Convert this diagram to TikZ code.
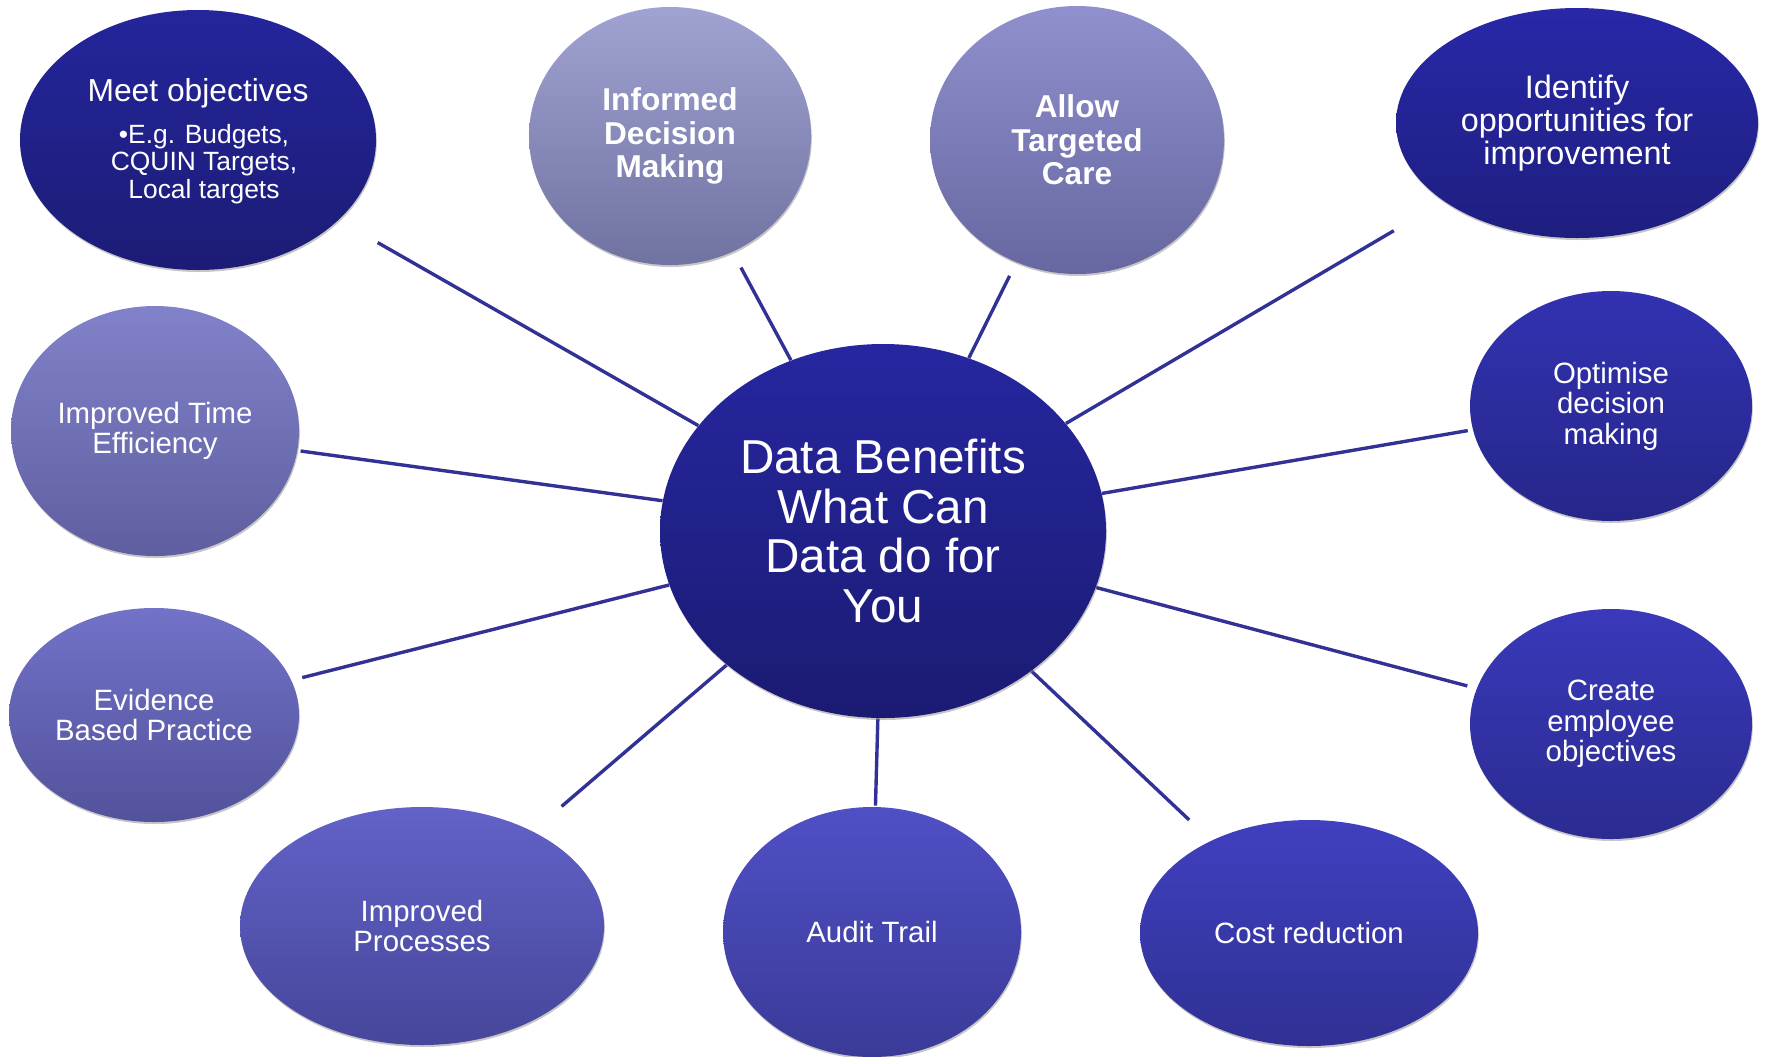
\documentclass[tikz,border=0pt]{standalone}
\usepackage{fontspec}
\setmainfont{Liberation Sans}
\usetikzlibrary{shapes.geometric,backgrounds,shadows}
\definecolor{linkc}{RGB}{50,50,150}
\definecolor{cenT}{RGB}{38,38,160}\definecolor{cenB}{RGB}{27,27,115}
\definecolor{meeT}{RGB}{36,37,155}\definecolor{meeB}{RGB}{28,28,118}
\definecolor{infT}{RGB}{160,162,210}\definecolor{infB}{RGB}{112,114,162}
\definecolor{allT}{RGB}{144,144,206}\definecolor{allB}{RGB}{102,102,160}
\definecolor{ideT}{RGB}{40,40,168}\definecolor{ideB}{RGB}{30,30,128}
\definecolor{timT}{RGB}{130,130,202}\definecolor{timB}{RGB}{94,94,160}
\definecolor{optT}{RGB}{50,50,178}\definecolor{optB}{RGB}{38,38,138}
\definecolor{eviT}{RGB}{114,114,200}\definecolor{eviB}{RGB}{82,82,156}
\definecolor{creT}{RGB}{57,57,186}\definecolor{creB}{RGB}{43,43,145}
\definecolor{proT}{RGB}{98,98,200}\definecolor{proB}{RGB}{70,70,155}
\definecolor{audT}{RGB}{80,80,198}\definecolor{audB}{RGB}{58,58,152}
\definecolor{cosT}{RGB}{64,64,192}\definecolor{cosB}{RGB}{48,48,148}
\tikzset{
  bub/.style={ellipse, inner sep=0pt, text=white, align=center,
    drop shadow={shadow xshift=0.4pt, shadow yshift=-1pt, opacity=0.45}},
  link/.style={draw=linkc, line width=1.7pt},
  txtsmall/.style={font=\fontsize{14.7}{15.2}\selectfont},
  txtbig/.style={font=\fontsize{16.2}{16.5}\selectfont},
  txtbold/.style={font=\bfseries\fontsize{15.8}{16.8}\selectfont},
  plain/.style={inner sep=0pt, text=white, align=center},
}
\begin{document}
\begin{tikzpicture}[x=0.5pt,y=-0.5pt]
\useasboundingbox (0,0) rectangle (1766,1056);
% centre
\node[bub, minimum width=223pt, minimum height=187pt, top color=cenT, bottom color=cenB,
  font=\fontsize{23.8}{24.8}\selectfont] (c) at (883,531) {Data Benefits\\What Can\\Data do for\\You};
% outer bubbles
\node[bub, minimum width=178pt, minimum height=130pt, top color=meeT, bottom color=meeB] (meet) at (198,140) {};
\node[plain, font=\fontsize{15.9}{16}\selectfont, anchor=base] (meetT) at (198,101) {Meet objectives};
\node[plain, font=\fontsize{13.2}{13.8}\selectfont] (meetS) at (204,164) {•E.g. Budgets,\\CQUIN Targets,\\Local targets};
\node[bub, txtbold, minimum width=141pt, minimum height=129pt, top color=infT, bottom color=infB] (inf) at (670,136) {Informed\\Decision\\Making};
\node[bub, txtbold, minimum width=147pt, minimum height=134pt, top color=allT, bottom color=allB] (all) at (1077,140) {Allow\\Targeted\\Care};
\node[bub, txtbig, minimum width=181pt, minimum height=115pt, top color=ideT, bottom color=ideB] (ide) at (1577,123) {Identify\\opportunities for\\improvement};
\node[bub, txtsmall, minimum width=144pt, minimum height=125pt, top color=timT, bottom color=timB] (tim) at (155,431) {Improved Time\\Efficiency};
\node[bub, txtsmall, minimum width=141pt, minimum height=115pt, top color=optT, bottom color=optB] (opt) at (1611,406) {Optimise\\decision\\making};
\node[bub, txtsmall, minimum width=145pt, minimum height=107pt, top color=eviT, bottom color=eviB] (evi) at (154,715) {Evidence\\Based Practice};
\node[bub, txtsmall, minimum width=141pt, minimum height=115pt, top color=creT, bottom color=creB] (cre) at (1611,724) {Create\\employee\\objectives};
\node[bub, txtsmall, minimum width=182pt, minimum height=119pt, top color=proT, bottom color=proB] (pro) at (422,926) {Improved\\Processes};
\node[bub, txtsmall, minimum width=149pt, minimum height=125pt, top color=audT, bottom color=audB] (aud) at (872,932) {Audit Trail};
\node[bub, txtsmall, minimum width=169pt, minimum height=113pt, top color=cosT, bottom color=cosB] (cos) at (1309,933) {Cost reduction};
% connectors
\begin{pgfonlayer}{background}
\draw[link, shorten >=22.5pt] (c) -- (meet);
\draw[link, shorten >=8.8pt] (c) -- (inf);
\draw[link, shorten >=7.5pt] (c) -- (all);
\draw[link, shorten >=29pt] (c) -- (ide);
\draw[link, shorten >=1.5pt] (c) -- (tim);
\draw[link, shorten >=2.5pt] (c) -- (opt);
\draw[link, shorten >=5.5pt] (c) -- (evi);
\draw[link, shorten >=4.75pt] (c) -- (cre);
\draw[link, shorten >=19pt] (c) -- (pro);
\draw[link, shorten >=0.5pt] (c) -- (aud);
\draw[link, shorten >=15pt] (c) -- (cos);
\end{pgfonlayer}
\end{tikzpicture}
\end{document}
